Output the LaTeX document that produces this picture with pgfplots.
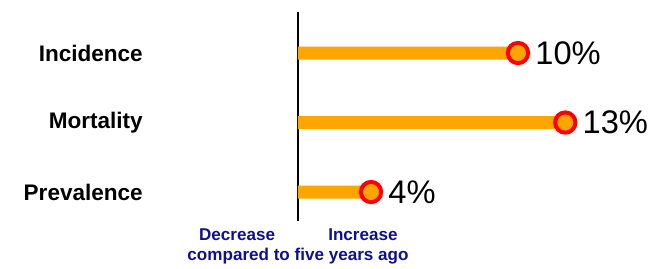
\documentclass[border=0pt]{standalone}
\usepackage{pgfplots}
\pgfplotsset{compat=1.18}
\usepackage{fontspec}
\setmainfont{Liberation Sans}
\definecolor{barorange}{RGB}{255,165,0}
\definecolor{mkred}{RGB}{255,0,0}
\definecolor{navyblue}{RGB}{16,16,140}
\begin{document}
\begin{tikzpicture}
\begin{axis}[
  x=16.5pt, y=52.125pt,
  xmin=-13.545, xmax=16.136,
  ymin=-0.079, ymax=3.763,
  axis line style={draw=none},
  tick style={draw=none},
  xtick=\empty,
  ytick={1,2,3},
  yticklabels={Prevalence,Mortality,Incidence},
  yticklabel style={anchor=east, xshift=107.25pt, font=\fontsize{16.9}{18}\selectfont\bfseries, inner sep=0pt},
  clip=false,
]
\draw[black, line width=1.1pt] (axis cs:0,0.583) -- (axis cs:0,3.59);
\addplot[xbar, bar width=9.75pt, fill=barorange, draw=none] coordinates {(10,3) (12.15,2) (3.32,1)};
\addplot[only marks, mark=*, mark size=7.6pt, mark options={draw=mkred, fill=barorange, line width=3pt},
  point meta=explicit symbolic, nodes near coords,
  nodes near coords style={anchor=west, font=\fontsize{24.5}{26}\selectfont, inner sep=0pt, xshift=11.5pt, text=black}]
  coordinates {(10,3) [10\%] (12.15,2) [13\%] (3.32,1) [4\%]};
\node[font=\fontsize{12.8}{14}\selectfont\bfseries, text=navyblue] at (axis cs:-2.77,0.385) {Decrease};
\node[font=\fontsize{12.8}{14}\selectfont\bfseries, text=navyblue] at (axis cs:2.95,0.385) {Increase};
\node[font=\fontsize{12.8}{14}\selectfont\bfseries, text=navyblue] at (axis cs:0,0.075) {compared to five years ago};
\end{axis}
\end{tikzpicture}
\end{document}
